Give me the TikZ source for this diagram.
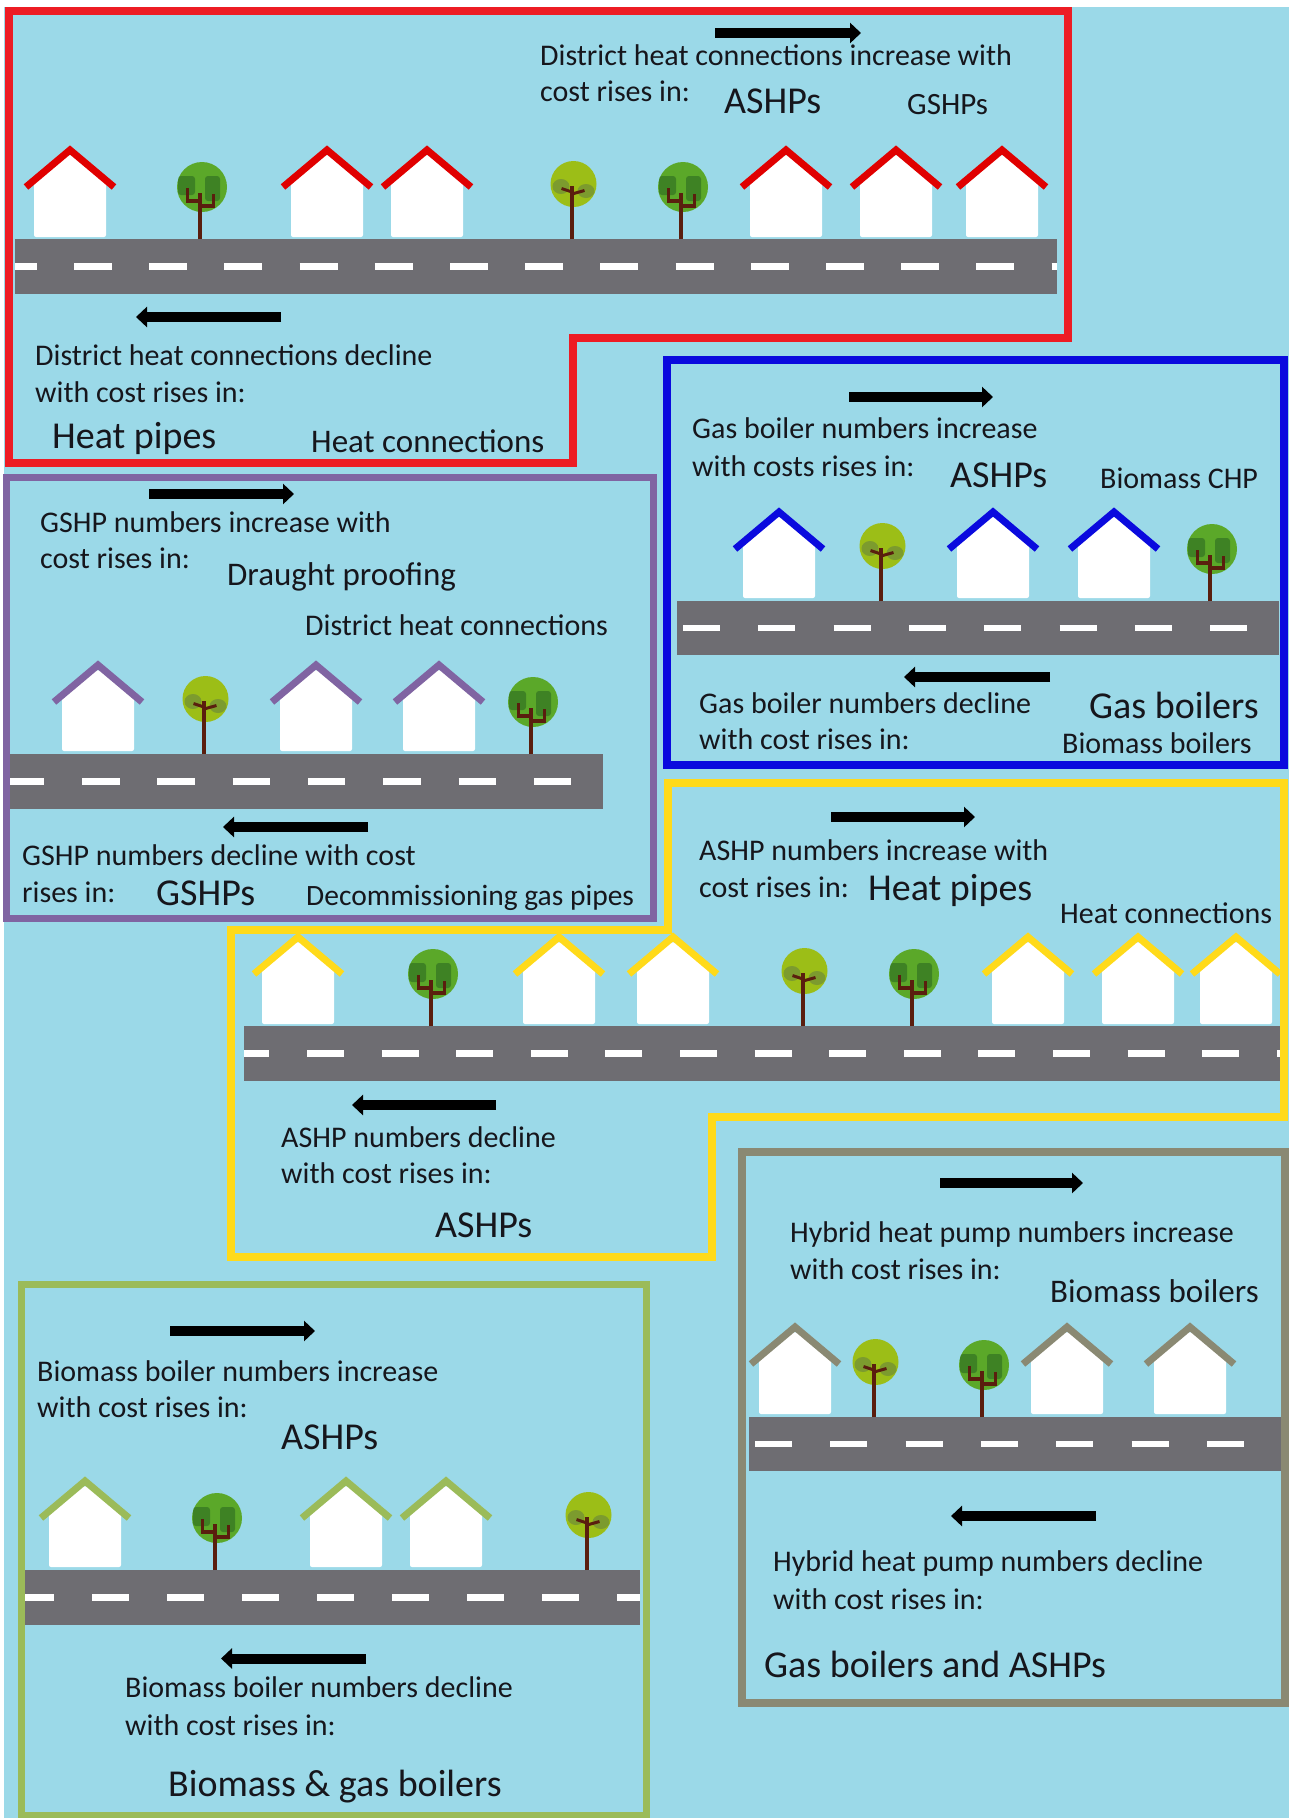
\documentclass[tikz,border=0pt]{standalone}
\usepackage{fontspec}
\setmainfont{Carlito}
\usetikzlibrary{arrows.meta}

\definecolor{sky}{RGB}{155,217,232}
\definecolor{roadc}{RGB}{110,109,114}
\definecolor{ink}{RGB}{22,22,28}
\definecolor{redline}{RGB}{237,28,36}
\definecolor{redroof}{RGB}{224,0,0}
\definecolor{blueline}{RGB}{10,10,222}
\definecolor{purpleline}{RGB}{128,100,162}
\definecolor{yellowline}{RGB}{255,218,26}
\definecolor{greyline}{RGB}{138,137,115}
\definecolor{greenline}{RGB}{155,187,89}
\definecolor{treedark}{RGB}{91,168,41}
\definecolor{blobdark}{RGB}{62,130,36}
\definecolor{treelight}{RGB}{156,190,23}
\definecolor{bloblight}{RGB}{124,155,46}
\definecolor{trunkc}{RGB}{90,30,14}

\tikzset{
  lab/.style={inner sep=0pt, anchor=base west, text=ink},
  norm/.style={lab, font=\fontsize{30}{36}\selectfont},
  mid/.style={lab, font=\fontsize{33}{40}\selectfont},
  big/.style={lab, font=\fontsize{38}{46}\selectfont},
  fat/.style={line width=10pt, draw=black, -{Triangle[length=11pt,width=20pt]}},
  roaddash/.style={draw=white, line width=6.5pt},
  frame/.style={line width=7.5pt, line join=miter},
}

% house: centre x, roof apex y, base y, roof colour
\newcommand\House[4]{%
  \fill[white, rounded corners=2pt] ({#1-36},#3) -- ({#1-36},{#2+33}) -- (#1,{#2+4})
    -- ({#1+36},{#2+33}) -- ({#1+36},#3) -- cycle;
  \draw[#4, line width=7pt] ({#1-44},{#2+37}) -- (#1,#2) -- ({#1+44},{#2+37});
}
% tree with square canopy patches: trunk x, ground y
\newcommand\DarkTree[2]{%
  \begin{scope}[shift={(#1,#2)}]
    \fill[treedark] (2,-52) circle[radius=25pt];
    \begin{scope}
      \clip (2,-52) circle[radius=25pt];
      \fill[blobdark, rounded corners=3pt] (-22,-63) rectangle (-5,-44);
      \fill[blobdark, rounded corners=3pt] (5,-63) rectangle (20,-38);
    \end{scope}
    \draw[trunkc, line width=4pt] (0,0) -- (0,-46);
    \draw[trunkc, line width=3.5pt, line join=miter] (-12.5,-51) -- (-12.5,-38) -- (0,-38);
    \draw[trunkc, line width=3.5pt, line join=miter] (13.5,-45) -- (13.5,-33) -- (0,-33);
  \end{scope}}
% tree with round canopy patches: trunk x, ground y
\newcommand\LightTree[2]{%
  \begin{scope}[shift={(#1,#2)}]
    \fill[treelight] (1.5,-55) circle[radius=23pt];
    \begin{scope}
      \clip (1.5,-55) circle[radius=23pt];
      \fill[bloblight] (-11,-52.5) ellipse[x radius=8.5pt, y radius=7.5pt];
      \fill[bloblight] (14,-48) ellipse[x radius=8.5pt, y radius=7pt];
    \end{scope}
    \draw[trunkc, line width=4pt] (0,0) -- (0,-53);
    \draw[trunkc, line width=3pt] (0,-47) -- (-10.5,-50.5);
    \draw[trunkc, line width=3pt] (0,-45) -- (12.5,-48.5);
  \end{scope}}

\begin{document}
\begin{tikzpicture}[x=1pt, y=-1pt]
\useasboundingbox (0,0) rectangle (1289,1818);
\fill[sky] (0,0) rectangle (1289,1818);
\fill[white] (0,0) rectangle (1289,7);
\fill[white] (0,0) rectangle (4,1818);

% ---------------- district heat (red) ----------------
\fill[roadc] (15,239) rectangle (1057,294);
\draw[roaddash, dash pattern=on 38pt off 37.2pt, dash phase=16.2pt] (15,266.5) -- (1057,266.5);
\House{70}{150}{237}{redroof}
\House{327}{150}{237}{redroof}
\House{427}{150}{237}{redroof}
\House{786}{150}{237}{redroof}
\House{896}{150}{237}{redroof}
\House{1002}{150}{237}{redroof}
\DarkTree{200}{239}
\LightTree{572}{239}
\DarkTree{681}{239}
\draw[frame, redline, line width=8pt] (9,10.5) -- (1068,10.5) -- (1068,338) -- (573,338)
  -- (573,463) -- (9,463) -- cycle;
\draw[fat] (715,33) -- (861,33);
\draw[fat] (281,317) -- (136,317);
\node[norm] (r1) at (540,65) {District heat connections increase with};
\node[norm] (r2) at (540,101) {cost rises in:};
\node[big]  (r3) at (724,113) {ASHPs};
\node[lab, font=\fontsize{31}{37}\selectfont] (r4) at (907,114) {GSHPs};
\node[norm] (r5) at (35,365) {District heat connections decline};
\node[norm] (r6) at (35,402) {with cost rises in:};
\node[big]  (r7) at (52,448) {Heat pipes};
\node[mid]  (r8) at (311,452) {Heat connections};

% ---------------- gas boilers (blue) ----------------
\fill[roadc] (677,601) rectangle (1279,655);
\draw[roaddash, dash pattern=on 37pt off 38.3pt] (683,628) -- (1279,628);
\House{779}{512}{598}{blueline}
\House{993}{512}{598}{blueline}
\House{1114}{512}{598}{blueline}
\LightTree{881}{601}
\DarkTree{1210}{601}
\draw[frame, blueline] (667,360) rectangle (1284,765);
\draw[fat] (849,397) -- (993,397);
\draw[fat] (1050,677) -- (904,677);
\node[norm] (b1) at (692,438) {Gas boiler numbers increase};
\node[norm] (b2) at (692,476) {with costs rises in:};
\node[big]  (b3) at (950,487) {ASHPs};
\node[norm] (b4) at (1100,488) {Biomass CHP};
\node[norm] (b5) at (699,713) {Gas boiler numbers decline};
\node[norm] (b6) at (699,749) {with cost rises in:};
\node[big]  (b7) at (1089,718) {Gas boilers};
\node[norm] (b8) at (1062,753) {Biomass boilers};

% ---------------- ground source heat pumps (purple) ----------------
\fill[roadc] (8,754) rectangle (603,809);
\draw[roaddash, dash pattern=on 37.5pt off 37.8pt, dash phase=1.3pt] (8,781.5) -- (603,781.5);
\House{98}{665}{751}{purpleline}
\House{316}{665}{751}{purpleline}
\House{439}{665}{751}{purpleline}
\LightTree{204}{754}
\DarkTree{531}{754}
\draw[frame, purpleline, line width=7pt] (6.5,477) rectangle (653,918);
\draw[fat] (149,494) -- (294,494);
\draw[fat] (368,827) -- (223,827);
\node[norm] (p1) at (40,532) {GSHP numbers increase with};
\node[norm] (p2) at (40,568) {cost rises in:};
\node[mid]  (p3) at (227,585) {Draught proofing};
\node[norm] (p4) at (305,635) {District heat connections};
\node[norm] (p5) at (22,865) {GSHP numbers decline with cost};
\node[norm] (p6) at (22,902) {rises in:};
\node[big]  (p7) at (156,905) {GSHPs};
\node[lab, font=\fontsize{29.5}{35}\selectfont] (p8) at (306,905) {Decommissioning gas pipes};

% ---------------- air source heat pumps (yellow) ----------------
\fill[roadc] (244,1026) rectangle (1280,1081);
\draw[roaddash, dash pattern=on 37pt off 37.6pt, dash phase=11.6pt] (244,1053.5) -- (1280,1053.5);
\House{298}{937}{1024}{yellowline}
\House{559}{937}{1024}{yellowline}
\House{673}{937}{1024}{yellowline}
\House{1028}{937}{1024}{yellowline}
\House{1138}{937}{1024}{yellowline}
\House{1236}{937}{1024}{yellowline}
\DarkTree{431}{1026}
\LightTree{803}{1026}
\DarkTree{912}{1026}
\draw[frame, yellowline, line width=8pt] (668,783) -- (1284,783) -- (1284,1117) -- (712,1117)
  -- (712,1257) -- (231,1257) -- (231,930) -- (668,930) -- cycle;
\draw[fat] (831,817) -- (975,817);
\draw[fat] (496,1105) -- (352,1105);
\node[norm] (y1) at (699,860) {ASHP numbers increase with};
\node[norm] (y2) at (699,897) {cost rises in:};
\node[big]  (y3) at (868,900) {Heat pipes};
\node[norm] (y4) at (1060,923) {Heat connections};
\node[norm] (y5) at (281,1147) {ASHP numbers decline};
\node[norm] (y6) at (281,1183) {with cost rises in:};
\node[big]  (y7) at (435,1237) {ASHPs};

% ---------------- hybrid heat pumps (grey) ----------------
\fill[roadc] (749,1417) rectangle (1281,1471);
\draw[roaddash, dash pattern=on 37pt off 38.3pt] (755,1444) -- (1281,1444);
\House{795}{1327}{1414}{greyline}
\House{1067}{1327}{1414}{greyline}
\House{1190}{1327}{1414}{greyline}
\LightTree{874}{1417}
\DarkTree{982}{1417}
\draw[frame, greyline, line width=8pt] (742,1152) rectangle (1285,1703);
\draw[fat] (940,1183) -- (1083,1183);
\draw[fat] (1096,1516) -- (951,1516);
\node[norm] (g1) at (790,1242) {Hybrid heat pump numbers increase};
\node[norm] (g2) at (790,1279) {with cost rises in:};
\node[mid]  (g3) at (1050,1302) {Biomass boilers};
\node[norm] (g4) at (773,1571) {Hybrid heat pump numbers decline};
\node[norm] (g5) at (773,1609) {with cost rises in:};
\node[big]  (g6) at (764,1677) {Gas boilers and ASHPs};

% ---------------- biomass boilers (green) ----------------
\fill[roadc] (25,1570) rectangle (640,1625);
\draw[roaddash, dash pattern=on 37pt off 38pt, dash phase=8pt] (25,1597.5) -- (640,1597.5);
\House{85}{1481}{1567}{greenline}
\House{346}{1481}{1567}{greenline}
\House{446}{1481}{1567}{greenline}
\DarkTree{215}{1570}
\LightTree{587}{1570}
\draw[frame, greenline, line width=7pt] (21,1284) rectangle (646,1815);
\draw[fat] (170,1331) -- (315,1331);
\draw[fat] (366,1658.5) -- (221,1658.5);
\node[norm] (n1) at (37,1381) {Biomass boiler numbers increase};
\node[norm] (n2) at (37,1417) {with cost rises in:};
\node[big]  (n3) at (281,1449) {ASHPs};
\node[norm] (n4) at (125,1697) {Biomass boiler numbers decline};
\node[norm] (n5) at (125,1735) {with cost rises in:};
\node[big]  (n6) at (168,1796) {Biomass \& gas boilers};
\end{tikzpicture}
\end{document}
